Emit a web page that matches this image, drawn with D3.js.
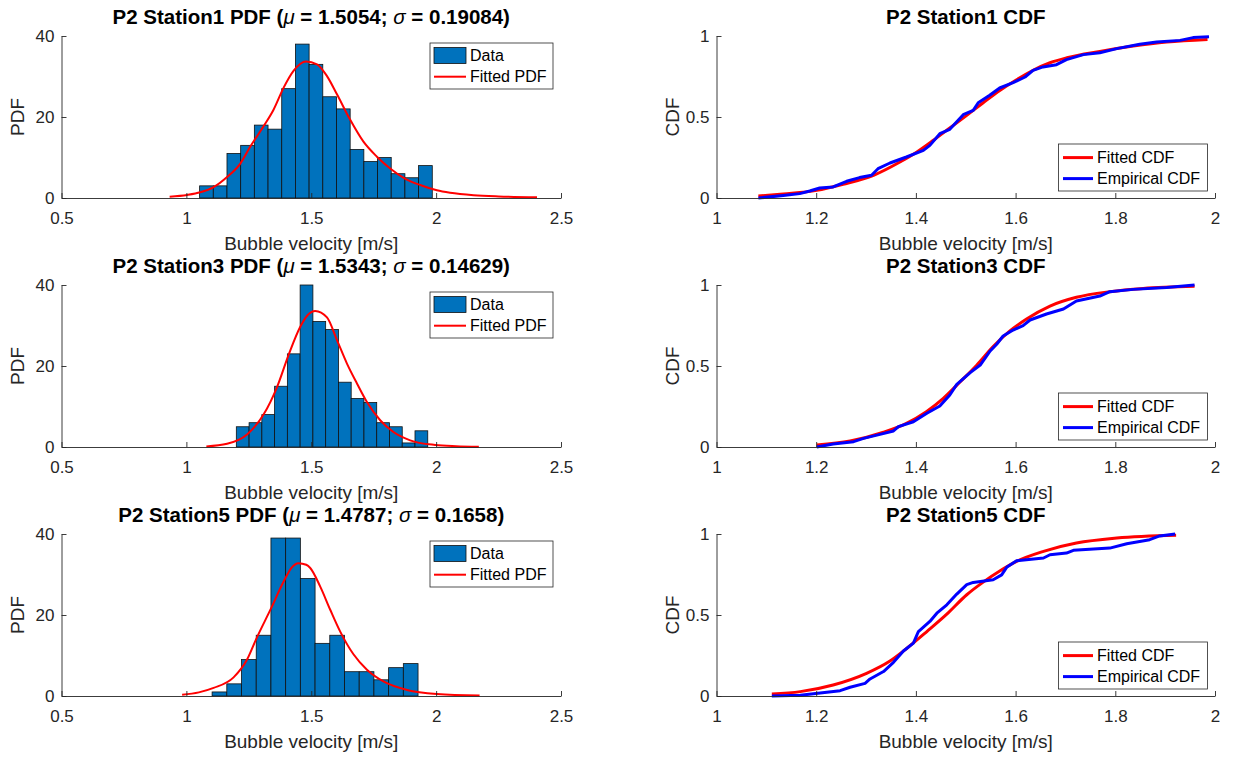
<!DOCTYPE html>
<html>
<head>
<meta charset="utf-8">
<script src="https://cdn.jsdelivr.net/npm/d3@7"></script>
<style>
  body { margin: 0; background: #fff; }
  svg text { font-family: "Liberation Sans", Arial, Helvetica, sans-serif; fill: #262626; }
  .tick text { font-size: 17px; }
  .title { font-size: 20.5px; font-weight: bold; fill: #000; }
  .label { font-size: 19px; }
  .legend text { font-size: 16px; fill: #000; }
</style>
</head>
<body>
<div class="svg-container"></div>
<script>
var width = 1235;
var height = 758;

// station names + fit parameters shown in the titles
var stations = ["P2 Station1", "P2 Station3", "P2 Station5"];
var fitMu = [1.5054, 1.5343, 1.4787];
var fitSigma = [0.19084, 0.14629, 0.1658];

// histogram bins (first edge, bin width) and counts
var binStart = [1.053, 1.200, 1.103];
var binWidth = [0.0548, 0.0511, 0.0589];
var counts1 = [3, 3, 11, 13, 18, 17, 27, 38, 33, 25, 22, 12, 9, 10, 6, 5, 8];
var counts3 = [5, 6, 8, 15, 23, 40, 31, 29, 16, 12, 11, 6, 5, 1, 4];
var counts5 = [1, 3, 9, 15, 39, 39, 29, 13, 15, 6, 6, 4, 7, 8];

// fitted pdf curves [velocity, value]
var fitPdf1 = [[0.933, 0.33], [1.003, 0.75], [1.056, 1.4], [1.109, 2.7], [1.163, 5.2], [1.216, 8.5],
               [1.256, 12.7], [1.309, 17.7], [1.349, 21.8], [1.389, 27.2], [1.429, 31.4], [1.479, 33.7],
               [1.523, 33.0], [1.563, 30.1], [1.603, 25.6], [1.656, 19.3], [1.709, 13.9], [1.763, 10.2],
               [1.816, 7.3], [1.875, 4.8], [1.936, 3.2], [2.003, 1.9], [2.056, 1.3], [2.15, 0.7],
               [2.25, 0.4], [2.404, 0.2]];
var fitPdf3 = [[1.080, 0.15], [1.163, 0.8], [1.243, 3.1], [1.309, 8.0], [1.363, 14.8], [1.409, 22.7],
               [1.456, 29.7], [1.486, 32.6], [1.516, 33.6], [1.563, 32.0], [1.603, 26.4], [1.643, 20.6],
               [1.683, 15.7], [1.723, 11.1], [1.776, 6.6], [1.829, 3.7], [1.896, 1.65], [1.996, 0.5],
               [2.08, 0.2], [2.171, 0.08]];
var fitPdf5 = [[0.983, 0.3], [1.05, 0.9], [1.109, 2.0], [1.189, 4.6], [1.243, 9.0], [1.279, 14.0],
               [1.338, 21.5], [1.389, 28.2], [1.42, 31.6], [1.449, 32.8], [1.48, 32.4], [1.496, 31.6],
               [1.536, 27.0], [1.576, 21.3], [1.616, 15.9], [1.669, 10.3], [1.723, 6.5], [1.789, 3.6],
               [1.883, 1.5], [2.003, 0.5], [2.174, 0.12]];

// fitted cdf curves
var fitCdf1 = [[1.084, 0.012], [1.134, 0.025], [1.201, 0.047], [1.254, 0.085], [1.315, 0.14], [1.368, 0.222],
               [1.402, 0.284], [1.435, 0.356], [1.468, 0.432], [1.502, 0.51], [1.535, 0.588], [1.569, 0.665],
               [1.602, 0.73], [1.636, 0.79], [1.669, 0.835], [1.703, 0.866], [1.769, 0.905], [1.836, 0.938],
               [1.903, 0.963], [1.985, 0.979]];
var fitCdf3 = [[1.201, 0.012], [1.268, 0.037], [1.335, 0.091], [1.381, 0.146], [1.421, 0.218], [1.455, 0.30],
               [1.488, 0.40], [1.522, 0.505], [1.555, 0.62], [1.588, 0.715], [1.622, 0.79], [1.669, 0.87],
               [1.722, 0.924], [1.789, 0.959], [1.856, 0.979], [1.959, 0.992]];
var fitCdf5 = [[1.111, 0.012], [1.168, 0.027], [1.234, 0.068], [1.301, 0.14], [1.348, 0.216], [1.382, 0.295],
               [1.422, 0.398], [1.462, 0.505], [1.502, 0.625], [1.535, 0.703], [1.569, 0.773], [1.602, 0.831],
               [1.656, 0.893], [1.722, 0.944], [1.803, 0.975], [1.922, 0.992]];

// empirical cdf curves
var empCdf1 = [[1.084, 0], [1.134, 0.016], [1.167, 0.027], [1.187, 0.043], [1.207, 0.062], [1.234, 0.068],
               [1.261, 0.103], [1.287, 0.126], [1.311, 0.14], [1.324, 0.181], [1.348, 0.216], [1.381, 0.253],
               [1.415, 0.294], [1.428, 0.325], [1.448, 0.397], [1.468, 0.424], [1.495, 0.514], [1.515, 0.541],
               [1.525, 0.588], [1.548, 0.634], [1.568, 0.679], [1.595, 0.712], [1.619, 0.747], [1.635, 0.788],
               [1.655, 0.809], [1.682, 0.823], [1.702, 0.854], [1.736, 0.885], [1.769, 0.897], [1.803, 0.922],
               [1.849, 0.949], [1.883, 0.963], [1.930, 0.973], [1.956, 0.99], [1.988, 0.996]];
var empCdf3 = [[1.201, 0], [1.234, 0.018], [1.275, 0.033], [1.295, 0.053], [1.328, 0.078], [1.355, 0.099],
               [1.365, 0.126], [1.395, 0.156], [1.422, 0.208], [1.448, 0.253], [1.468, 0.321], [1.482, 0.387],
               [1.509, 0.459], [1.529, 0.506], [1.549, 0.593], [1.562, 0.634], [1.575, 0.685], [1.595, 0.722],
               [1.615, 0.749], [1.629, 0.784], [1.662, 0.821], [1.696, 0.852], [1.722, 0.901], [1.769, 0.932],
               [1.789, 0.959], [1.836, 0.973], [1.903, 0.984], [1.959, 1.0]];
var empCdf5 = [[1.111, 0], [1.168, 0.004], [1.248, 0.033], [1.268, 0.054], [1.298, 0.078], [1.308, 0.105],
               [1.335, 0.151], [1.355, 0.208], [1.375, 0.278], [1.395, 0.326], [1.405, 0.398], [1.428, 0.46],
               [1.442, 0.511], [1.462, 0.563], [1.482, 0.629], [1.502, 0.687], [1.515, 0.701], [1.555, 0.718],
               [1.572, 0.748], [1.582, 0.794], [1.602, 0.835], [1.656, 0.852], [1.669, 0.872], [1.702, 0.882],
               [1.716, 0.899], [1.789, 0.913], [1.823, 0.94], [1.869, 0.965], [1.889, 0.988], [1.92, 1.0]];

// tick values
var pdfXTicks = [0.5, 1, 1.5, 2, 2.5];
var pdfYTicks = [0, 20, 40];
var cdfXTicks = [1, 1.2, 1.4, 1.6, 1.8, 2];
var cdfYTicks = [0, 0.5, 1];

// layout of the 3x2 grid
var pdfLeft = 61.5, pdfRight = 561;
var cdfLeft = 716.5, cdfRight = 1215;
var rowTops = [36, 285, 534];
var axH = 162;

var svg = d3.select(".svg-container")
              .append("svg")
              .attr("width", width)
              .attr("height", height);

var fmt = function(d) { return String(d); };

drawPdf(0, counts1, fitPdf1);
drawPdf(1, counts3, fitPdf3);
drawPdf(2, counts5, fitPdf5);
drawCdf(0, fitCdf1, empCdf1);
drawCdf(1, fitCdf3, empCdf3);
drawCdf(2, fitCdf5, empCdf5);

function styleAxis(ax) {
    ax.attr("font-size", null).attr("font-family", null);
    ax.select(".domain").attr("stroke", "#262626").attr("stroke-width", 0.9);
    ax.selectAll(".tick line").attr("stroke", "#262626").attr("stroke-width", 0.9);
}

function drawAxes(g, x, y, xTicks, yTicks, left) {
    var xa = g.append("g")
                .attr("transform", "translate(0," + axH + ")")
                .call(d3.axisBottom(x).tickValues(xTicks).tickFormat(fmt)
                        .tickSize(-5).tickSizeOuter(0).tickPadding(14));
    styleAxis(xa);

    var ya = g.append("g")
                .attr("transform", "translate(" + left + ",0)")
                .call(d3.axisLeft(y).tickValues(yTicks).tickFormat(fmt)
                        .tickSize(-5).tickSizeOuter(0).tickPadding(7));
    styleAxis(ya);
}

function drawLabels(g, left, right, yText, yLabelX) {
    g.append("text")
        .attr("class", "label")
        .attr("x", (left + right) / 2)
        .attr("y", axH + 52)
        .attr("text-anchor", "middle")
        .text("Bubble velocity [m/s]");

    g.append("text")
        .attr("class", "label")
        .attr("transform", "rotate(-90)")
        .attr("x", -axH / 2)
        .attr("y", yLabelX)
        .attr("text-anchor", "middle")
        .text(yText);
}

function drawPdf(row, counts, fit) {
    var g = svg.append("g").attr("transform", "translate(0," + rowTops[row] + ")");

    var x = d3.scaleLinear().domain([0.5, 2.5]).range([pdfLeft, pdfRight]);
    var y = d3.scaleLinear().domain([0, 40]).range([axH, 0]);

    var start = binStart[row], w = binWidth[row];

    // histogram bars
    g.append("g")
        .selectAll("rect")
        .data(counts)
        .enter()
        .append("rect")
        .attr("x", function(d, i) { return x(start + i * w); })
        .attr("width", function(d, i) { return x(start + (i + 1) * w) - x(start + i * w); })
        .attr("y", function(d) { return y(d); })
        .attr("height", function(d) { return y(0) - y(d); })
        .attr("fill", "#0072BD")
        .attr("stroke", "#111")
        .attr("stroke-width", 0.8);

    var line = d3.line()
                 .curve(d3.curveMonotoneX)
                 .x(function(d) { return x(d[0]); })
                 .y(function(d) { return y(d[1]); });

    g.append("path")
        .datum(fit)
        .attr("fill", "none")
        .attr("stroke", "#ff0000")
        .attr("stroke-width", 2)
        .attr("d", line);

    drawAxes(g, x, y, pdfXTicks, pdfYTicks, pdfLeft);
    drawLabels(g, pdfLeft, pdfRight, "PDF", 24);

    // title with greek symbols
    var t = g.append("text")
               .attr("class", "title")
               .attr("x", (pdfLeft + pdfRight) / 2)
               .attr("y", -12)
               .attr("text-anchor", "middle");
    t.append("tspan").text(stations[row] + " PDF (");
    t.append("tspan").attr("font-style", "italic").attr("font-weight", "normal").text("\u03bc");
    t.append("tspan").text(" = " + fitMu[row] + "; ");
    t.append("tspan").attr("font-style", "italic").attr("font-weight", "normal").text("\u03c3");
    t.append("tspan").text(" = " + fitSigma[row] + ")");

    // legend
    var lg = g.append("g").attr("class", "legend");
    lg.append("rect")
        .attr("x", 430).attr("y", 7)
        .attr("width", 123).attr("height", 46)
        .attr("fill", "#fff")
        .attr("stroke", "#262626")
        .attr("stroke-width", 0.8);
    lg.append("rect")
        .attr("x", 434).attr("y", 11.5)
        .attr("width", 32).attr("height", 16)
        .attr("fill", "#0072BD")
        .attr("stroke", "#111")
        .attr("stroke-width", 0.8);
    lg.append("text").attr("x", 470).attr("y", 25.2).text("Data");
    lg.append("line")
        .attr("x1", 434).attr("x2", 466)
        .attr("y1", 40.7).attr("y2", 40.7)
        .attr("stroke", "#ff0000")
        .attr("stroke-width", 2);
    lg.append("text").attr("x", 470).attr("y", 46.4).text("Fitted PDF");
}

function drawCdf(row, fit, emp) {
    var g = svg.append("g").attr("transform", "translate(0," + rowTops[row] + ")");

    var x = d3.scaleLinear().domain([1, 2]).range([cdfLeft, cdfRight]);
    var y = d3.scaleLinear().domain([0, 1]).range([axH, 0]);

    var fitLine = d3.line()
                    .curve(d3.curveMonotoneX)
                    .x(function(d) { return x(d[0]); })
                    .y(function(d) { return y(d[1]); });

    var empLine = d3.line()
                    .x(function(d) { return x(d[0]); })
                    .y(function(d) { return y(d[1]); });

    g.append("path")
        .datum(fit)
        .attr("fill", "none")
        .attr("stroke", "#ff0000")
        .attr("stroke-width", 3)
        .attr("d", fitLine);

    g.append("path")
        .datum(emp)
        .attr("fill", "none")
        .attr("stroke", "#0000ff")
        .attr("stroke-width", 3)
        .attr("stroke-linejoin", "round")
        .attr("d", empLine);

    drawAxes(g, x, y, cdfXTicks, cdfYTicks, cdfLeft);
    drawLabels(g, cdfLeft, cdfRight, "CDF", 679);

    g.append("text")
        .attr("class", "title")
        .attr("x", (cdfLeft + cdfRight) / 2)
        .attr("y", -12)
        .attr("text-anchor", "middle")
        .text(stations[row] + " CDF");

    // legend
    var lg = g.append("g").attr("class", "legend");
    lg.append("rect")
        .attr("x", 1058.5).attr("y", 108)
        .attr("width", 149).attr("height", 47)
        .attr("fill", "#fff")
        .attr("stroke", "#262626")
        .attr("stroke-width", 0.8);
    lg.append("line")
        .attr("x1", 1063).attr("x2", 1093)
        .attr("y1", 121.6).attr("y2", 121.6)
        .attr("stroke", "#ff0000")
        .attr("stroke-width", 3);
    lg.append("text").attr("x", 1097).attr("y", 127.3).text("Fitted CDF");
    lg.append("line")
        .attr("x1", 1063).attr("x2", 1093)
        .attr("y1", 142.6).attr("y2", 142.6)
        .attr("stroke", "#0000ff")
        .attr("stroke-width", 3);
    lg.append("text").attr("x", 1097).attr("y", 148.3).text("Empirical CDF");
}
</script>
</body>
</html>
